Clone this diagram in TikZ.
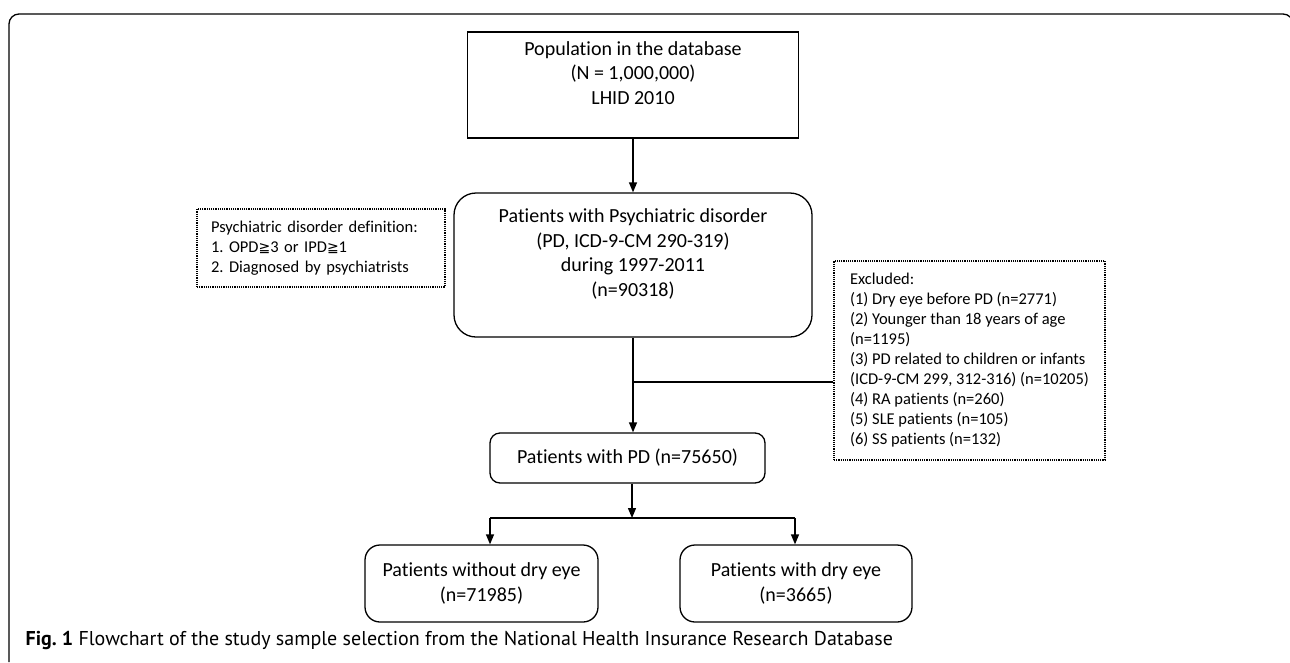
\documentclass[tikz,border=0pt]{standalone}
\usepackage{fontspec}
\setmainfont{Carlito}[Ligatures=NoCommon]
\newfontfamily\capfont{PT Sans}
\newfontfamily\symfont{DejaVu Sans}
\usetikzlibrary{arrows.meta,positioning}
\newcommand{\geqq}{{\symfont\fontsize{14}{16}\selectfont ≧}}
\frenchspacing

\begin{document}
\begin{tikzpicture}[x=1pt,y=-1pt,->,>={Triangle[length=10pt,width=8pt]},
                    line width=1.3pt]
  \tikzstyle{every node}=[font=\fontsize{20}{24.5}\selectfont]
  \tikzstyle{box}=[rectangle,draw=black,align=center,inner sep=0pt]
  \tikzstyle{note}=[rectangle,draw=black,densely dotted,line width=1.2pt,
                    align=left,inner sep=0pt,font=\fontsize{16.5}{20}\selectfont]

  \useasboundingbox (0,0) rectangle (1290,662);
  \draw[-,rounded corners=10pt] (9,662) -- (9,14) -- (1293,14) -- (1293,662);

  \node[box,minimum width=331,minimum height=106] (pop) at (633,85)
    {Population in the database\\(N = 1,000,000)\\LHID 2010\\\mbox{}};
  \node[box,rounded corners=22pt,minimum width=358,minimum height=144] (pd) at (633,265)
    {Patients with Psychiatric disorder\\(PD, ICD-9-CM 290-319)\\during 1997-2011\\(n=90318)\\\mbox{}};
  \node[box,rounded corners=10pt,minimum width=275,minimum height=50] (pdn) at (627.5,458)
    {Patients with PD (n=75650)};
  \node[box,rounded corners=15pt,minimum width=233,minimum height=77] (nodry) at (481.5,583.5)
    {Patients without dry eye\\(n=71985)};
  \node[box,rounded corners=15pt,minimum width=232,minimum height=77] (dry) at (796,583.5)
    {Patients with dry eye\\(n=3665)};

  \node[note,minimum width=248,minimum height=78,text width=220] (def) at (321,248)
    {Psychiatric disorder definition:\\1. OPD\geqq3 or IPD\geqq1\\2. Diagnosed by psychiatrists};
  \node[note,minimum width=271,minimum height=199] (excl) at (969.5,360.5)
    {Excluded:\\(1) Dry eye before PD (n=2771)\\(2) Younger than 18 years of age\\(n=1195)\\(3) PD related to children or infants\\(ICD-9-CM 299, 312-316) (n=10205)\\(4) RA patients (n=260)\\(5) SLE patients (n=105)\\(6) SS patients (n=132)};

  \node[anchor=west,inner sep=0pt,font=\capfont\fontsize{20}{24}\selectfont] (cap) at (25,640)
    {\textbf{Fig. 1} Flowchart of the study sample selection from the National Health Insurance Research Database};

  \coordinate (j1) at (633,382);
  \coordinate (j2) at (632,518);
  \coordinate (jl) at (490,518);
  \coordinate (jr) at (795,518);

  \path (pop.south) edge (pop.south |- pd.north)
        (pd.south) edge (pd.south |- pdn.north)
        (j1) edge[-] (j1 -| excl.west)
        (j2 |- pdn.south) edge (j2)
        (jl) edge[-] (jr)
        (jl) edge (jl |- nodry.north)
        (jr) edge (jr |- dry.north);
\end{tikzpicture}
\end{document}
